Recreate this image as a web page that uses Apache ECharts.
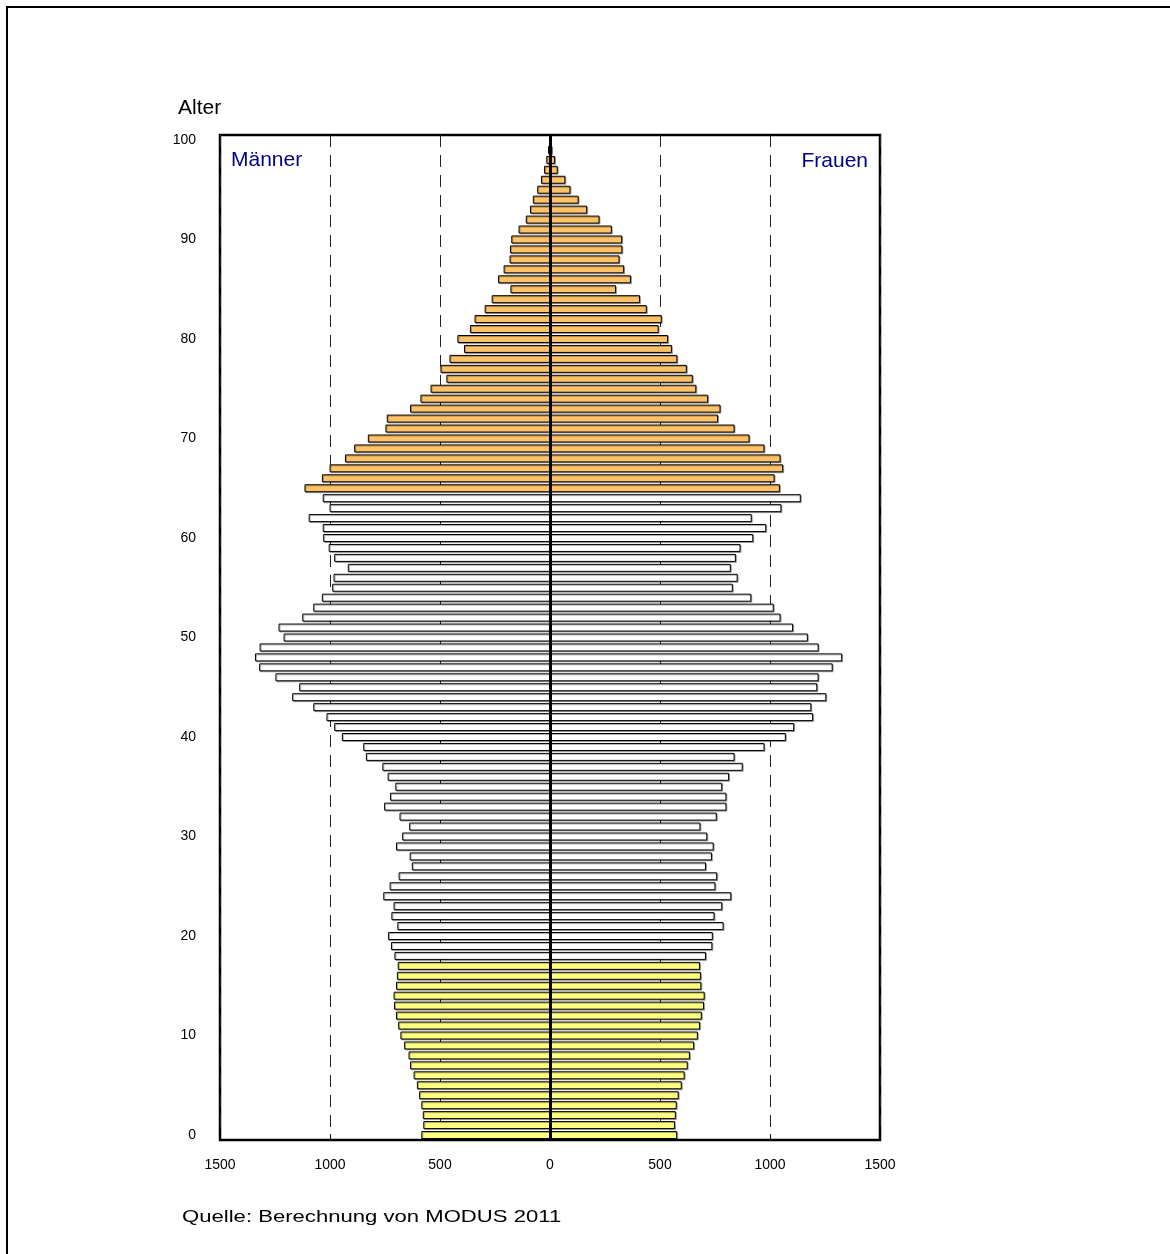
<!DOCTYPE html>
<html>
<head>
<meta charset="utf-8">
<script src="https://cdn.jsdelivr.net/npm/echarts@6/dist/echarts.min.js"></script>
<style>
  html, body { margin: 0; padding: 0; background: #fff; }
  #chart { width: 1170px; height: 1254px; }
</style>
</head>
<body>
<div id="chart"></div>
<script>
// Age classes 0 … 100
const ages = Array.from({ length: 101 }, (_, i) => String(i));

// Population by single year of age (index = age)
const maenner = [
  585, 576, 578, 585, 595, 605, 620, 636, 643, 663,
  680, 690, 700, 709, 711, 700, 696, 692, 707, 723,
  736, 694, 721, 711, 758, 729, 688, 628, 638, 700,
  672, 640, 684, 754, 727, 703, 738, 762, 837, 849,
  946, 981, 1016, 1076, 1172, 1140, 1248, 1322, 1341, 1320,
  1211, 1234, 1126, 1076, 1037, 990, 984, 919, 981, 1006,
  1031, 1033, 1097, 1002, 1033, 1116, 1037, 1002, 932, 890,
  828, 748, 742, 636, 589, 543, 471, 498, 457, 391,
  421, 364, 343, 297, 265, 180, 236, 211, 184, 182,
  176, 143, 110, 91, 78, 58, 41, 27, 17, 9,
  3
];
const frauen = [
  578, 568, 572, 576, 585, 599, 612, 626, 636, 655,
  672, 682, 690, 700, 703, 688, 686, 682, 709, 738,
  740, 789, 748, 783, 824, 752, 760, 709, 736, 744,
  715, 684, 758, 802, 802, 783, 814, 876, 839, 975,
  1072, 1110, 1196, 1188, 1256, 1215, 1221, 1285, 1328, 1221,
  1172, 1105, 1048, 1017, 915, 831, 853, 822, 845, 866,
  924, 983, 917, 1052, 1140, 1045, 1021, 1060, 1048, 975,
  907, 839, 764, 775, 719, 665, 649, 622, 579, 554,
  537, 494, 508, 440, 409, 300, 368, 337, 316, 329,
  328, 281, 225, 169, 130, 93, 70, 35, 23, 10,
  3
];

// x-axis ticks (absolute values shown on both sides)
const xTicks = [-1500, -1000, -500, 0, 500, 1000, 1500];

// Age groups: children/youth, working age, seniors
const JUGEND_BIS = 17;
const SENIOREN_AB = 65;
const FARBE_JUGEND = '#FFFF80';
const FARBE_ERWERB = '#FFFFFF';
const FARBE_SENIOREN = '#FFC266';

function farbe(age) {
  if (age >= SENIOREN_AB) return FARBE_SENIOREN;
  if (age <= JUGEND_BIS) return FARBE_JUGEND;
  return FARBE_ERWERB;
}

const FONT = '"Liberation Sans", Arial, sans-serif';

const chart = echarts.init(document.getElementById('chart'), null, { renderer: 'canvas' });

const barStyle = {
  color: (p) => farbe(p.dataIndex),
  borderColor: '#000',
  borderWidth: 1,
  shadowColor: 'rgba(0,0,0,0.3)',
  shadowOffsetX: 1,
  shadowOffsetY: 1,
  shadowBlur: 0
};

chart.setOption({
  animation: false,
  backgroundColor: '#fff',
  grid: {
    left: 220, right: 290, top: 135, bottom: 114,
    show: true,
    borderColor: '#000',
    borderWidth: 2.5,
    backgroundColor: 'transparent'
  },
  xAxis: {
    type: 'value',
    min: xTicks[0],
    max: xTicks[xTicks.length - 1],
    interval: 500,
    axisLine: { show: false },
    axisTick: { show: true, inside: true, length: 6, lineStyle: { color: '#000' } },
    axisLabel: {
      color: '#000', fontFamily: FONT, fontSize: 14, margin: 18,
      formatter: (v) => String(Math.abs(v))
    },
    splitLine: { show: true, lineStyle: { color: '#222', width: 1, type: [12, 8] } }
  },
  yAxis: {
    type: 'category',
    data: ages,
    axisLine: { show: false },
    axisTick: { show: false },
    axisLabel: {
      interval: 9,
      color: '#000', fontFamily: FONT, fontSize: 14, margin: 24
    },
    splitLine: { show: false }
  },
  series: [
    {
      name: 'Männer',
      type: 'bar',
      data: maenner.map(v => -v),
      barWidth: 8,
      barGap: '-100%',
      itemStyle: barStyle,
      markLine: {
        silent: true,
        symbol: 'none',
        label: { show: false },
        lineStyle: { color: '#000', width: 3, type: 'solid' },
        data: [{ xAxis: 0 }],
        z: 10
      }
    },
    {
      name: 'Frauen',
      type: 'bar',
      data: frauen,
      barWidth: 8,
      barGap: '-100%',
      itemStyle: barStyle
    }
  ],
  graphic: [
    {
      type: 'rect', silent: true, z: -10,
      shape: { x: 7, y: 7, width: 1400, height: 1400 },
      style: { fill: 'none', stroke: '#000', lineWidth: 2 }
    },
    {
      type: 'text', left: 178, top: 98,
      style: { text: 'Alter', font: '21px ' + FONT, fill: '#000' }
    },
    {
      type: 'text', left: 231, top: 150,
      style: { text: 'Männer', font: '21px ' + FONT, fill: '#000080' }
    },
    {
      type: 'text', right: 302, top: 151,
      style: { text: 'Frauen', font: '21px ' + FONT, fill: '#000080' }
    },
    {
      type: 'text', x: 182, y: 1217, scaleX: 1.3,
      style: {
        text: 'Quelle: Berechnung von MODUS 2011',
        font: '17px ' + FONT, fill: '#000',
        align: 'left', verticalAlign: 'middle'
      }
    }
  ]
});
</script>
</body>
</html>
